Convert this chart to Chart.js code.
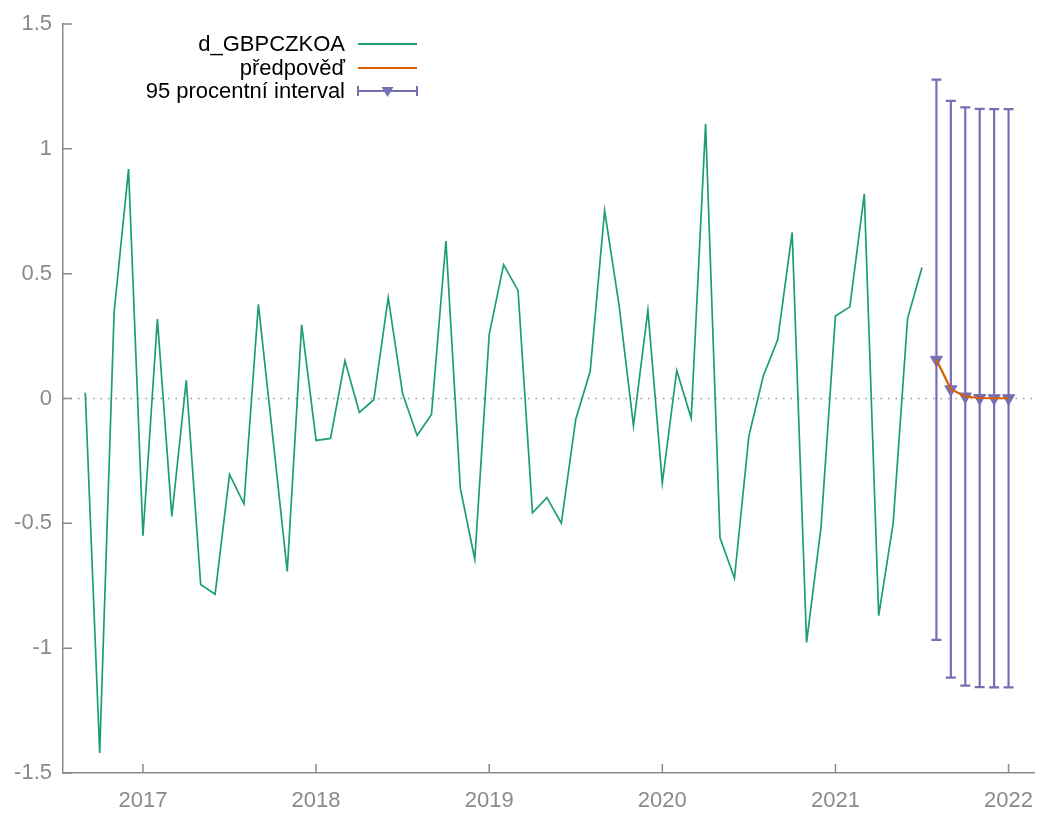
<!DOCTYPE html>
<html>
<head>
<meta charset="utf-8">
<script src="https://cdn.jsdelivr.net/npm/chart.js@4.4.0/dist/chart.umd.min.js"></script>
<style>
html,body{margin:0;padding:0;background:#fff;}
#c{display:block;}
</style>
</head>
<body>
<canvas id="c" width="1042" height="814"></canvas>
<script>
// ---- data ----
const obsMonths = [
 '2016-09','2016-10','2016-11','2016-12',
 '2017-01','2017-02','2017-03','2017-04','2017-05','2017-06','2017-07','2017-08','2017-09','2017-10','2017-11','2017-12',
 '2018-01','2018-02','2018-03','2018-04','2018-05','2018-06','2018-07','2018-08','2018-09','2018-10','2018-11','2018-12',
 '2019-01','2019-02','2019-03','2019-04','2019-05','2019-06','2019-07','2019-08','2019-09','2019-10','2019-11','2019-12',
 '2020-01','2020-02','2020-03','2020-04','2020-05','2020-06','2020-07','2020-08','2020-09','2020-10','2020-11','2020-12',
 '2021-01','2021-02','2021-03','2021-04','2021-05','2021-06','2021-07'
];
const obsValues = [
 0.023, -1.42, 0.346, 0.919,
 -0.55, 0.318, -0.472, 0.073, -0.745, -0.784, -0.304, -0.422, 0.377, -0.155, -0.693, 0.295,
 -0.168, -0.16, 0.151, -0.056, -0.005, 0.404, 0.019, -0.148, -0.064, 0.631, -0.36, -0.644,
 0.257, 0.536, 0.432, -0.458, -0.397, -0.499, -0.083, 0.109, 0.753, 0.374, -0.109, 0.354,
 -0.338, 0.112, -0.079, 1.10, -0.558, -0.72, -0.15, 0.09, 0.236, 0.665, -0.977, -0.515,
 0.33, 0.367, 0.82, -0.87, -0.5, 0.32, 0.525
];
const fcMonths = ['2021-08','2021-09','2021-10','2021-11','2021-12','2022-01'];
const fcValues = [0.155, 0.037, 0.008, 0.002, 0.001, 0.001];
const fcLow  = [-0.967, -1.118, -1.150, -1.156, -1.157, -1.157];
const fcHigh = [1.277, 1.192, 1.166, 1.160, 1.159, 1.159];
const yearTicks = [2017, 2018, 2019, 2020, 2021, 2022];
const yTicks = [-1.5, -1, -0.5, 0, 0.5, 1, 1.5];
const seriesNames = ['d_GBPCZKOA', 'předpověď', '95 procentní interval'];

// ---- helpers ----
function monthToX(m){ const [y, mo] = m.split('-').map(Number); return y + (mo - 1) / 12; }
const GREEN = '#1b9e77', ORANGE = '#d95f02', PURPLE = '#7570b3';
const GRAY = '#8a8a8a';
const FONT = '"Liberation Sans", Arial, Helvetica, sans-serif';

const obsData = obsMonths.map((m, i) => ({x: monthToX(m), y: obsValues[i]}));
const fcData = fcMonths.map((m, i) => ({x: monthToX(m), y: fcValues[i]}));
const ciData = fcMonths.map((m, i) => ({x: monthToX(m), y: fcValues[i], lo: fcLow[i], hi: fcHigh[i]}));

const CAP = 5;

const decor = {
  id: 'decor',
  beforeDatasetsDraw(chart) {
    const {ctx, chartArea, scales} = chart;
    const y0 = scales.y.getPixelForValue(0);
    ctx.save();
    ctx.strokeStyle = '#999';
    ctx.lineWidth = 1.5;
    ctx.setLineDash([1.5, 6]);
    ctx.beginPath();
    ctx.moveTo(chartArea.left, y0);
    ctx.lineTo(chartArea.right, y0);
    ctx.stroke();
    ctx.setLineDash([]);
    // inward ticks
    ctx.strokeStyle = GRAY;
    ctx.lineWidth = 1.5;
    ctx.beginPath();
    yTicks.forEach(v => {
      const p = scales.y.getPixelForValue(v);
      ctx.moveTo(chartArea.left, p);
      ctx.lineTo(chartArea.left + 9, p);
    });
    yearTicks.forEach(v => {
      const p = scales.x.getPixelForValue(v);
      ctx.moveTo(p, chartArea.bottom);
      ctx.lineTo(p, chartArea.bottom - 9);
    });
    ctx.stroke();
    ctx.restore();
  },
  beforeDatasetDraw(chart, args) {
    if (args.index !== 2) return;
    const {ctx, scales} = chart;
    const ds = chart.data.datasets[2];
    ctx.save();
    ctx.strokeStyle = PURPLE;
    ctx.lineWidth = 2.2;
    ctx.beginPath();
    ds.data.forEach(d => {
      const x = scales.x.getPixelForValue(d.x);
      const yl = scales.y.getPixelForValue(d.lo);
      const yh = scales.y.getPixelForValue(d.hi);
      ctx.moveTo(x, yl); ctx.lineTo(x, yh);
      ctx.moveTo(x - CAP, yl); ctx.lineTo(x + CAP, yl);
      ctx.moveTo(x - CAP, yh); ctx.lineTo(x + CAP, yh);
    });
    ctx.stroke();
    ctx.restore();
  },
  afterDraw(chart) {
    const {ctx} = chart;
    const rows = [44, 68, 91];
    const tx = 345, x1 = 358, x2 = 417;
    ctx.save();
    ctx.font = '22px ' + FONT;
    ctx.fillStyle = '#000';
    ctx.textAlign = 'right';
    ctx.textBaseline = 'middle';
    seriesNames.forEach((n, i) => ctx.fillText(n, tx, rows[i] + 1));
    ctx.lineWidth = 2;
    ctx.strokeStyle = GREEN;
    ctx.beginPath(); ctx.moveTo(x1, rows[0]); ctx.lineTo(x2, rows[0]); ctx.stroke();
    ctx.strokeStyle = ORANGE;
    ctx.beginPath(); ctx.moveTo(x1, rows[1]); ctx.lineTo(x2, rows[1]); ctx.stroke();
    ctx.strokeStyle = PURPLE;
    ctx.beginPath();
    ctx.moveTo(x1, rows[2]); ctx.lineTo(x2, rows[2]);
    ctx.moveTo(x1, rows[2] - CAP); ctx.lineTo(x1, rows[2] + CAP);
    ctx.moveTo(x2, rows[2] - CAP); ctx.lineTo(x2, rows[2] + CAP);
    ctx.stroke();
    const cx = (x1 + x2) / 2, cy = rows[2];
    ctx.fillStyle = PURPLE;
    ctx.beginPath();
    ctx.moveTo(cx - 6, cy - 4); ctx.lineTo(cx + 6, cy - 4); ctx.lineTo(cx, cy + 6);
    ctx.closePath(); ctx.fill();
    ctx.restore();
  }
};

new Chart(document.getElementById('c'), {
  type: 'line',
  data: {
    datasets: [
      {label: seriesNames[0], data: obsData, borderColor: GREEN, borderWidth: 1.7, pointRadius: 0, tension: 0},
      {label: seriesNames[1], data: fcData, borderColor: ORANGE, borderWidth: 2.2, pointRadius: 0, tension: 0},
      {label: seriesNames[2], data: ciData, showLine: false, pointStyle: 'triangle', rotation: 180,
       pointRadius: 7, backgroundColor: PURPLE, borderColor: PURPLE, borderWidth: 1}
    ]
  },
  options: {
    responsive: false,
    animation: false,
    events: [],
    layout: {padding: {top: 24, right: 7, left: 0, bottom: 0}},
    plugins: {legend: {display: false}, tooltip: {enabled: false}},
    scales: {
      x: {
        type: 'linear',
        min: 2016.538, max: 2022.147,
        afterBuildTicks: s => { s.ticks = yearTicks.map(v => ({value: v})); },
        afterFit: s => { s.height = 41; s.paddingRight = 0; s.paddingLeft = 0; },
        grid: {display: false, drawTicks: false},
        border: {display: true, color: GRAY, width: 1.5},
        ticks: {color: GRAY, font: {size: 22, family: FONT}, padding: 15, maxRotation: 0,
                callback: v => String(v)}
      },
      y: {
        min: -1.5, max: 1.5,
        afterBuildTicks: s => { s.ticks = yTicks.map(v => ({value: v})); },
        afterFit: s => { s.width = 63; s.paddingTop = 0; s.paddingBottom = 0; },
        grid: {display: false, drawTicks: false},
        border: {display: true, color: GRAY, width: 1.5},
        ticks: {color: GRAY, font: {size: 22, family: FONT}, padding: 11,
                callback: v => String(v)}
      }
    }
  },
  plugins: [decor]
});
</script>
</body>
</html>
